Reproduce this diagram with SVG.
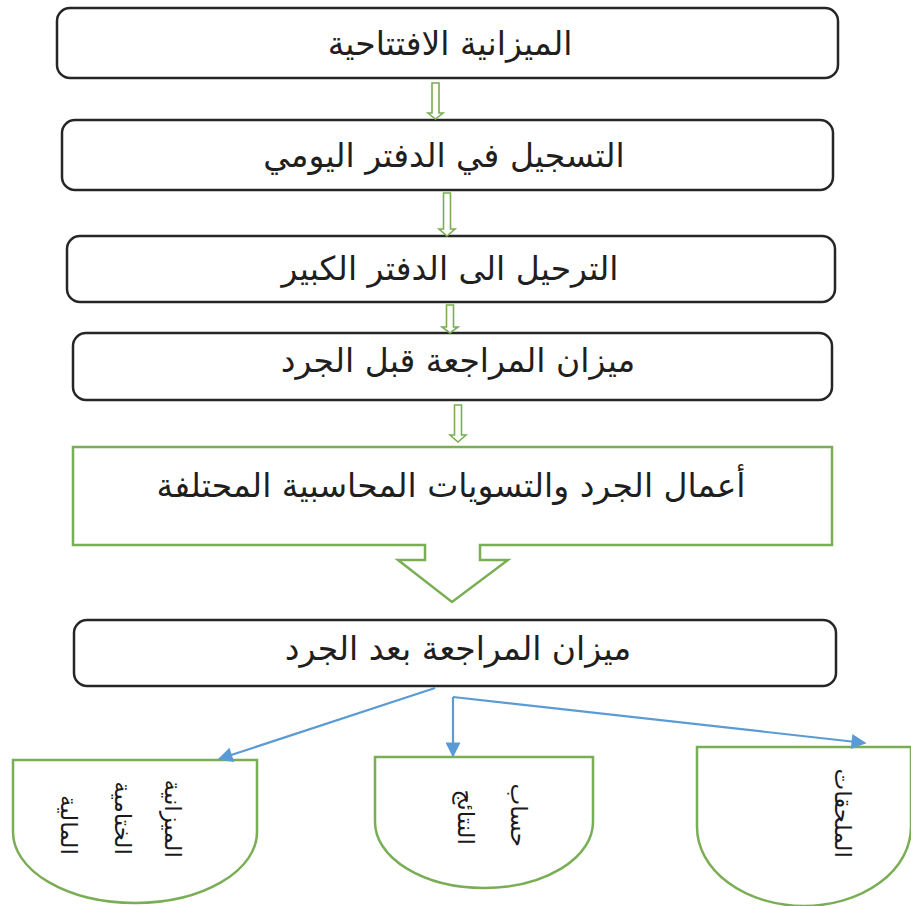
<svg xmlns="http://www.w3.org/2000/svg" width="911" height="906" viewBox="0 0 911 906">
<style>
.box{fill:#fff;stroke:#262626;stroke-width:2.5}
.gbox{fill:#fff;stroke:#7aae55;stroke-width:2.5}
.garrow{fill:#fff;stroke:#7aae55;stroke-width:1.6}
.t{font-family:"DejaVu Sans","Noto Sans",sans-serif;font-size:33px;fill:#1f1f1f;text-anchor:middle}
.v{font-family:"DejaVu Sans","Noto Sans",sans-serif;font-size:23px;fill:#1a1a1a;text-anchor:end}
.conn{stroke:#5b9bd5;stroke-width:2.2;fill:none}
</style>
<defs>
<marker id="ah" viewBox="0 0 10 10" refX="9" refY="5" markerWidth="18" markerHeight="15" orient="auto" markerUnits="userSpaceOnUse">
<path d="M0,0 L10,5 L0,10 z" fill="#5b9bd5"/>
</marker>
</defs>
<rect width="911" height="906" fill="#fff"/>
<g id="n1"><rect class="box" x="57" y="8" width="781" height="70" rx="13"/><text class="t" x="450" y="55">الميزانية الافتتاحية</text></g>
<g id="n2"><rect class="box" x="62" y="120" width="771" height="70" rx="13"/><text class="t" x="444" y="167">التسجيل في الدفتر اليومي</text></g>
<g id="n3"><rect class="box" x="67" y="236" width="768" height="66" rx="13"/><text class="t" x="450" y="280">الترحيل الى الدفتر الكبير</text></g>
<g id="n4"><rect class="box" x="73" y="333" width="759" height="67" rx="13"/><text class="t" x="458" y="372">ميزان المراجعة قبل الجرد</text></g>
<g id="n5"><path class="gbox" d="M73,447 H832 V545 H480 V560 H508 L452,602 L398,560 H425 V545 H73 Z"/><text class="t" x="451" y="497">أعمال الجرد والتسويات المحاسبية المحتلفة</text></g>
<g id="n6"><rect class="box" x="74" y="620" width="762" height="66" rx="13"/><text class="t" x="458" y="660">ميزان المراجعة بعد الجرد</text></g>
<g id="n7"><path class="gbox" d="M13,760 H257 V832 A122,71 0 0 1 13,832 Z"/><text class="v" transform="translate(165,858) rotate(90)">الميزانية</text><text class="v" transform="translate(115,855) rotate(90)">الختامية</text><text class="v" transform="translate(61,855) rotate(90)">المالية</text></g>
<g id="n8"><path class="gbox" d="M375,757 H593 V822 A109,66 0 0 1 375,822 Z"/><text class="v" transform="translate(511,847) rotate(90)">حساب</text><text class="v" transform="translate(458,845) rotate(90)">النتائج</text></g>
<g id="n9"><path class="gbox" d="M697,747 H911 V827 A107,79 0 0 1 697,827 Z"/><text class="v" transform="translate(835,858) rotate(90)">الملحقات</text></g>
<g id="connectors">
<path class="garrow" d="M432,83 H439 V113 H443 L435.5,119 L428,113 H432 Z"/>
<path class="garrow" d="M443.5,193 H450.5 V229 H455 L447,236 L439,229 H443.5 Z"/>
<path class="garrow" d="M446.5,305 H453.5 V327 H458 L450,333 L442,327 H446.5 Z"/>
<path class="garrow" d="M454.5,405 H461.5 V435 H466 L458,442 L450,435 H454.5 Z"/>
<line class="conn" x1="435" y1="688" x2="219" y2="759" marker-end="url(#ah)"/>
<line class="conn" x1="453" y1="697" x2="453" y2="756" marker-end="url(#ah)"/>
<line class="conn" x1="453" y1="697" x2="865" y2="743" marker-end="url(#ah)"/>
</g>
</svg>
